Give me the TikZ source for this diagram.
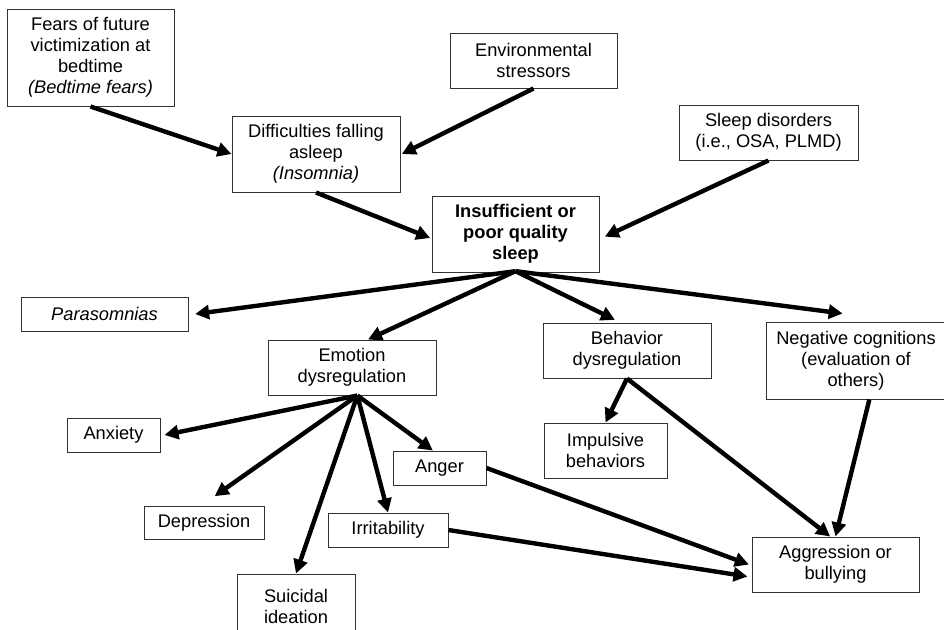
\documentclass[tikz,border=0pt]{standalone}
\usepackage{fontspec}
\setmainfont{Liberation Sans}
\usetikzlibrary{arrows.meta}

\begin{document}
\begin{tikzpicture}[x=0.75pt, y=-0.75pt,
	every node/.style={font=\fontsize{13.7pt}{15.75pt}\selectfont},
	box/.style={draw=black!80, line width=0.75pt, align=center, inner sep=0pt},
	sz/.style 2 args={minimum width=#1*0.75pt, minimum height=#2*0.75pt},
	arr/.style={line width=3.3pt, -{Triangle[length=10.5pt,width=10.5pt]}}]
	\useasboundingbox (0,0) rectangle (944,629);
	\clip (0,0) rectangle (944,629);
	\node[box, sz={167}{97}] (fears) at (90.5,57.5) {Fears of future\\victimization at\\bedtime\\\textit{(Bedtime fears)}};
	\node[box, sz={167}{55}] (env) at (533.5,60.5) {Environmental\\stressors};
	\node[box, sz={168}{76}] (diff) at (316,154) {Difficulties falling\\asleep\\\textit{(Insomnia)}};
	\node[box, sz={179}{55}] (sdis) at (768.5,132.5) {Sleep disorders\\(i.e., OSA, PLMD)};
	\node[box, sz={167}{76}, font=\fontsize{13.7pt}{15.75pt}\selectfont\bfseries] (sleep) at (515.5,234) {Insufficient or\\poor quality\\sleep};
	\node[box, sz={167}{34}] (para) at (104.5,314) {\textit{Parasomnias}};
	\node[box, sz={168}{55}] (emo) at (352,367.5) {Emotion\\dysregulation};
	\node[box, sz={168}{55}] (beh) at (627,350.5) {Behavior\\dysregulation};
	\node[box, sz={180}{77}] (neg) at (856,360.5) {Negative cognitions\\(evaluation of\\others)};
	\node[box, sz={93}{34}] (anx) at (113.5,435) {Anxiety};
	\node[box, sz={120}{33}] (dep) at (204,522.5) {Depression};
	\node[box, sz={118}{64}] (sui) at (296,606) {Suicidal\\ideation};
	\node[box, sz={120}{34}] (irr) at (388,530) {Irritability};
	\node[box, sz={93}{34}] (ang) at (439.5,468) {Anger};
	\node[box, sz={123}{55}] (imp) at (605.5,450.5) {Impulsive\\behaviors};
	\node[box, sz={167}{55}] (agg) at (835.5,564.5) {Aggression or\\bullying};

	\draw[arr] (fears.south) -- (diff.west);
	\draw[arr] (env.south) -- ([xshift=1pt]diff.east);
	\draw[arr] (diff.south) -- ([xshift=-1pt, yshift=-3pt]sleep.west);
	\draw[arr] (sdis.south) -- ([xshift=4pt, yshift=-2pt]sleep.east);
	\draw[arr] ([yshift=1pt]sleep.south) -- ([xshift=5pt]para.east);
	\draw[arr] ([yshift=1pt]sleep.south) -- ([xshift=12pt]emo.north);
	\draw[arr] ([yshift=1pt]sleep.south) -- ([xshift=-9pt, yshift=2pt]beh.north);
	\draw[arr] ([yshift=1pt]sleep.south) -- ([xshift=-10pt, yshift=6pt]neg.north);
	\draw[arr] ([xshift=4pt]emo.south) -- ([xshift=3pt]anx.east);
	\draw[arr] ([xshift=4pt]emo.south) -- ([xshift=8pt, yshift=7pt]dep.north);
	\draw[arr] ([xshift=4pt]emo.south) -- (sui.north);
	\draw[arr] ([xshift=4pt]emo.south) -- (irr.north);
	\draw[arr] ([xshift=4pt]emo.south) -- ([xshift=-5pt]ang.north);
	\draw[arr] (beh.south) -- (imp.north);
	\draw[arr] (beh.south) -- ([xshift=-4pt]agg.north);
	\draw[arr] ([xshift=10pt]neg.south) -- (agg.north);
	\draw[arr] (ang.east) -- ([xshift=-2pt]agg.west);
	\draw[arr] (irr.east) -- ([xshift=-3pt, yshift=-9pt]agg.west);
\end{tikzpicture}
\end{document}
